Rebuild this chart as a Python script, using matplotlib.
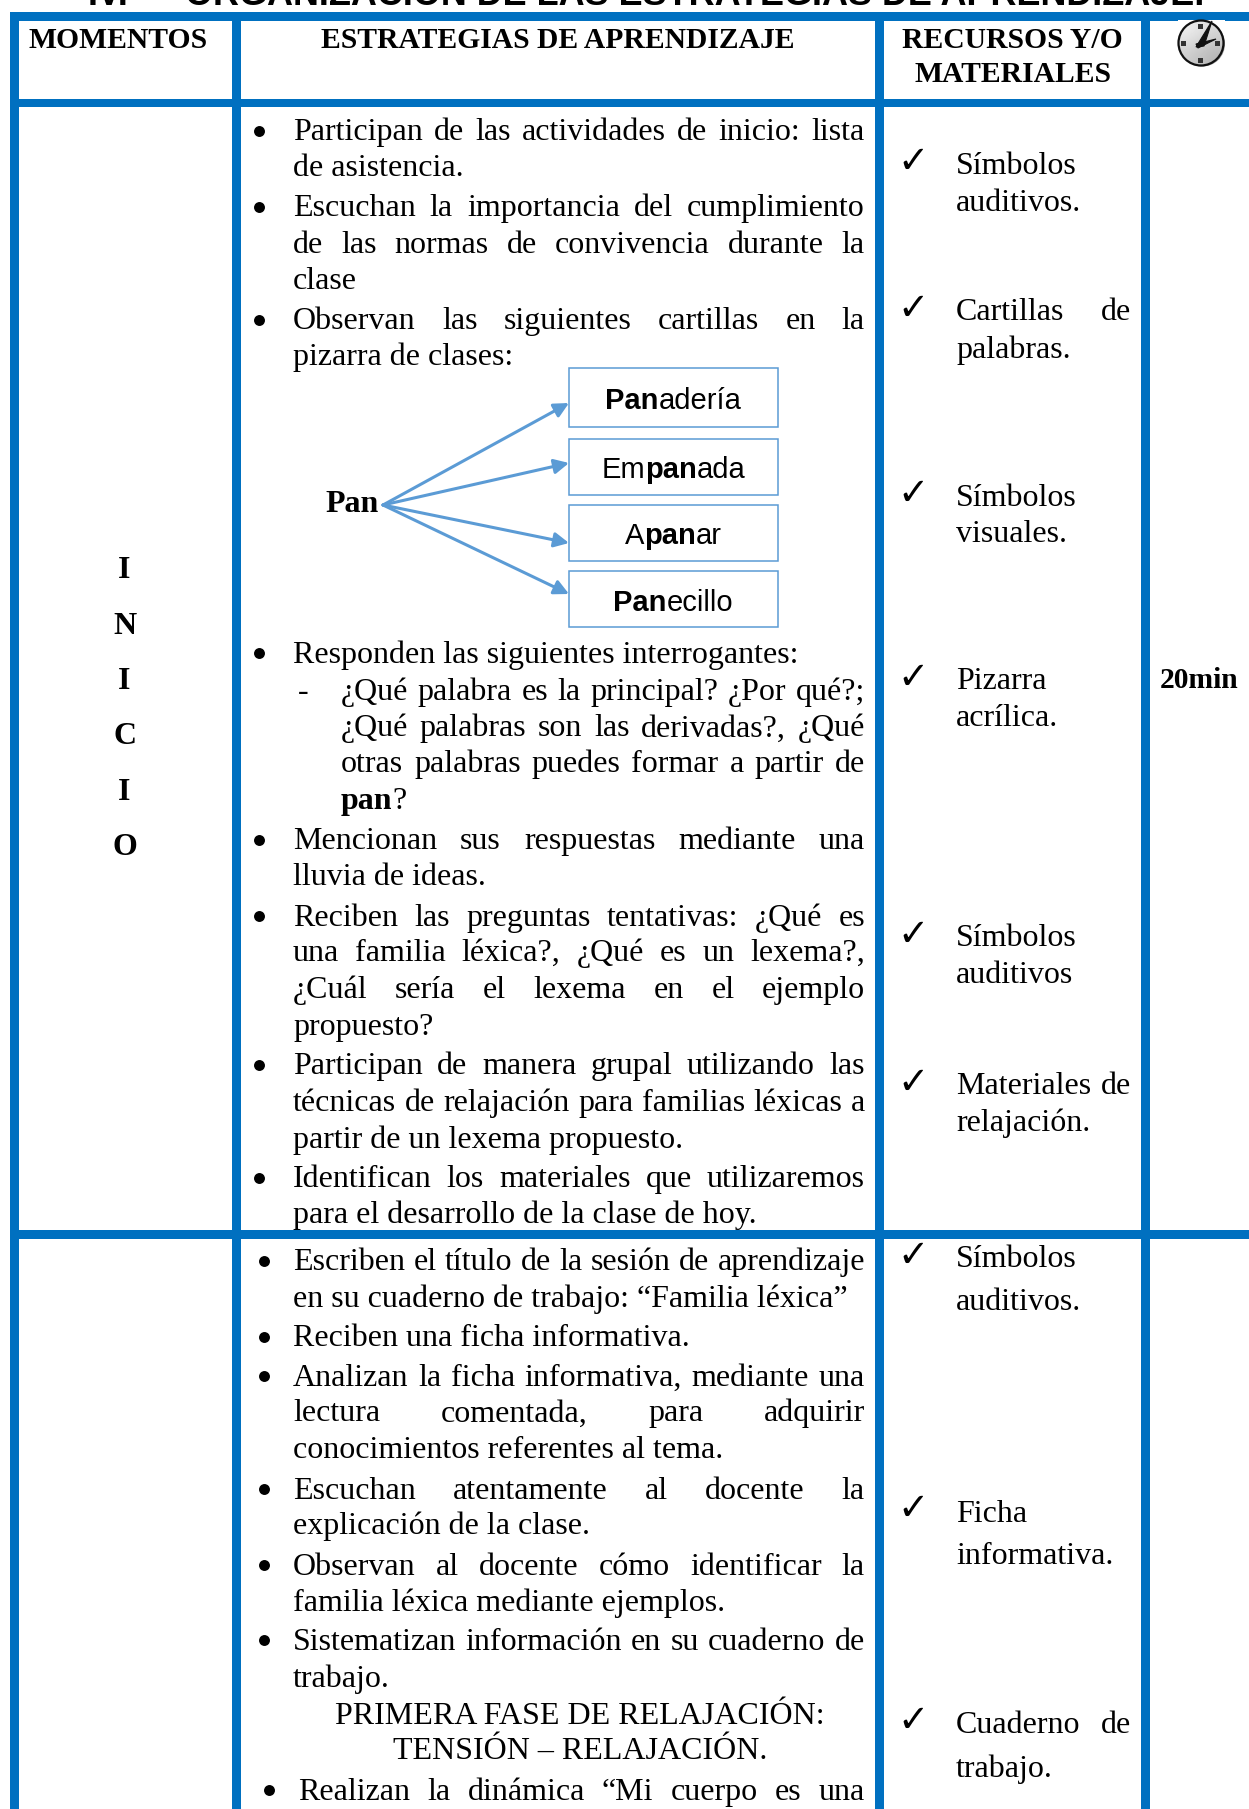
import numpy as np
import matplotlib
matplotlib.use("Agg")
import matplotlib.pyplot as plt
from matplotlib.font_manager import FontProperties
from matplotlib.patches import Rectangle, Circle, Polygon

W, H = 1249, 1809
BLUE = "#0070C0"
LBLUE = "#5B9BD5"
SERIF = "Liberation Serif"
SANS = "Liberation Sans"
BODY = 23.0
HEAD = 21.3
SCALE = 1249 / 1083

TITLE_NUM = "IV."
TITLE = "ORGANIZACIÓN DE LAS ESTRATEGIAS DE APRENDIZAJE."
HEADERS = [("MOMENTOS", 102, 33), ("ESTRATEGIAS DE APRENDIZAJE", 484, 33),
           ("RECURSOS Y/O", 878, 33), ("MATERIALES", 878, 62)]
MOMENT = ["I", "N", "I", "C", "I", "O"]
MOMENT_Y = [492, 540, 588, 636, 684, 732]
TIME_LABEL = ("20min", 1040, 587)

# (line centre in the shrunk reference, left-edge kind, justified, bullet, text)
STRATEGY = [
    (112, "b", True, True, "Participan de las actividades de inicio: lista"),
    (143, "b", False, False, "de asistencia."),
    (178, "b", True, True, "Escuchan la importancia del cumplimiento"),
    (210, "b", True, False, "de las normas de convivencia durante la"),
    (241, "b", False, False, "clase"),
    (276, "b", True, True, "Observan las siguientes cartillas en la"),
    (307, "b", False, False, "pizarra de clases:"),
    (565, "b", False, True, "Responden las siguientes interrogantes:"),
    (597, "s", True, False, "¿Qué palabra es la principal? ¿Por qué?;"),
    (629, "s", True, False, "¿Qué palabras son las derivadas?, ¿Qué"),
    (660, "s", True, False, "otras palabras puedes formar a partir de"),
    (727, "b", True, True, "Mencionan sus respuestas mediante una"),
    (758, "b", False, False, "lluvia de ideas."),
    (793, "b", True, True, "Reciben las preguntas tentativas: ¿Qué es"),
    (824, "b", True, False, "una familia léxica?, ¿Qué es un lexema?,"),
    (856, "b", True, False, "¿Cuál sería el lexema en el ejemplo"),
    (888, "b", False, False, "propuesto?"),
    (922, "b", True, True, "Participan de manera grupal utilizando las"),
    (954, "b", True, False, "técnicas de relajación para familias léxicas a"),
    (986, "b", False, False, "partir de un lexema propuesto."),
    (1020, "b", True, True, "Identifican los materiales que utilizaremos"),
    (1051, "b", False, False, "para el desarrollo de la clase de hoy."),
    (1092, "b", True, True, "Escriben el título de la sesión de aprendizaje"),
    (1124, "b", False, False, "en su cuaderno de trabajo: “Familia léxica”"),
    (1158, "b", False, True, "Reciben una ficha informativa."),
    (1192, "b", True, True, "Analizan la ficha informativa, mediante una"),
    (1223, "b", True, False, "lectura comentada, para adquirir"),
    (1255, "b", False, False, "conocimientos referentes al tema."),
    (1290, "b", True, True, "Escuchan atentamente al docente la"),
    (1321, "b", False, False, "explicación de la clase."),
    (1356, "b", True, True, "Observan al docente cómo identificar la"),
    (1387, "b", False, False, "familia léxica mediante ejemplos."),
    (1421, "b", True, True, "Sistematizan información en su cuaderno de"),
    (1453, "b", False, False, "trabajo."),
    (1551, "c", True, True, "Realizan la dinámica “Mi cuerpo es una"),
]
CENTERED = [(1485, "PRIMERA FASE DE RELAJACIÓN:"), (1516, "TENSIÓN – RELAJACIÓN.")]

# (check-mark centre, first line centre, second line centre, first, second, justify first)
RESOURCES = [
    (138, 141, 173, "Símbolos", "auditivos.", False),
    (265, 268, 301, "Cartillas de", "palabras.", True),
    (426, 429, 460, "Símbolos", "visuales.", False),
    (585, 588, 620, "Pizarra", "acrílica.", False),
    (808, 811, 843, "Símbolos", "auditivos", False),
    (936, 939, 971, "Materiales de", "relajación.", True),
    (1086, 1089, 1126, "Símbolos", "auditivos.", False),
    (1306, 1310, 1347, "Ficha", "informativa.", False),
    (1490, 1493, 1531, "Cuaderno de", "trabajo.", True),
]

DERIVED = [[("Pan", True), ("adería", False)],
           [("Em", False), ("pan", True), ("ada", False)],
           [("A", False), ("pan", True), ("ar", False)],
           [("Pan", True), ("ecillo", False)]]
BOX_Y = [(368, 427), (439, 495), (505, 561), (571, 627)]
WORD_BASE = [409, 478, 544, 611]
ARROW_END = [403, 463, 543, 594]

fig = plt.figure(figsize=(W / 100, H / 100), dpi=100)
ax = fig.add_axes([0, 0, 1, 1])
ax.set_xlim(0, W)
ax.set_ylim(H, 0)
ax.axis("off")
rend = fig.canvas.get_renderer()


def fp(bold=False, fam=SERIF, size=BODY):
    return FontProperties(family=fam, weight="bold" if bold else "normal", size=size)


def width(s, prop):
    return rend.get_text_width_height_descent(s, prop, False)[0]


def put(x, y, s, prop, ha="left"):
    ax.text(x, y, s, fontproperties=prop, ha=ha, va="baseline", color="black")


def justified(x0, x1, y, s, prop):
    words = s.split(" ")
    ws = [width(w, prop) for w in words]
    gap = (x1 - x0 - sum(ws)) / max(len(words) - 1, 1)
    x = x0
    for w, wd in zip(words, ws):
        put(x, y, w, prop)
        x += wd + gap


def base(c):
    return c * SCALE + 11


# table rules
for x0, x1 in [(10, 19), (232, 241), (875, 884), (1141, 1150)]:
    ax.add_patch(Rectangle((x0, 12), x1 - x0, H - 12, fc=BLUE, ec="none", zorder=1))
for y0, y1 in [(12, 21), (99, 107), (1230, 1239)]:
    ax.add_patch(Rectangle((10, y0), W - 10, y1 - y0, fc=BLUE, ec="none", zorder=1))

# title (cropped by the page top)
put(88, 5, TITLE_NUM, fp(True, SANS, 25.9))
put(185, 5, TITLE, fp(True, SANS, 25.9))

# headers
for s, cx, cy in HEADERS:
    put(cx * SCALE, cy * SCALE + 10, s, fp(True, size=HEAD), ha="center")

for s, cy in zip(MOMENT, MOMENT_Y):
    put(108 * SCALE, base(cy), s, fp(True), ha="center")
put(TIME_LABEL[1] * SCALE, base(TIME_LABEL[2]), TIME_LABEL[0], fp(True, size=HEAD), ha="center")

# strategy column
LEFT = {"b": 293, "s": 341, "c": 298}
RIGHT = 865
normal = fp()
for cy, kind, just, bullet, s in STRATEGY:
    y = base(cy)
    if just:
        justified(LEFT[kind], RIGHT, y, s, normal)
    else:
        put(LEFT[kind], y, s, normal)
    if bullet:
        bx = 269 if kind == "c" else (259 if cy < 1070 else 264)
        ax.scatter([bx], [y - 9.5], s=62, color="black", zorder=3, linewidths=0)
put(298, base(597), "-", normal)
x = LEFT["s"]
put(x, base(692), "pan", fp(True))
put(x + width("pan", fp(True)), base(692), "?", normal)
for cy, s in CENTERED:
    put(580, base(cy), s, normal, ha="center")

# resources column
for ck, c1, c2, a, b, just in RESOURCES:
    ax.text(792 * SCALE, ck * SCALE + 4, "\u2713", fontproperties=fp(True, "DejaVu Sans", 27),
            ha="center", va="center", color="black")
    if just:
        justified(956, 1131, base(c1), a, normal)
    else:
        put(956, base(c1), a, normal)
    put(956, base(c2), b, normal)

# diagram
for (y0, y1), segs, by, ay in zip(BOX_Y, DERIVED, WORD_BASE, ARROW_END):
    ax.add_patch(Rectangle((569, y0), 209, y1 - y0, fc="white", ec=LBLUE, lw=1.1, zorder=2))
    props = [fp(b, SANS, 21) for _, b in segs]
    ws = [width(t, p) for (t, _), p in zip(segs, props)]
    x = 673.5 - sum(ws) / 2
    for (t, _), p, wd in zip(segs, props, ws):
        ax.text(x, by, t, fontproperties=p, ha="left", va="baseline", color="black", zorder=3)
        x += wd
    ax.annotate("", xy=(569, ay), xytext=(383, 505),
                arrowprops=dict(arrowstyle="-|>", color=LBLUE, lw=2.2, mutation_scale=22,
                                shrinkA=0, shrinkB=0), zorder=3)
put(325, 512, "Pan", fp(True))

# clock
ax.add_patch(Rectangle((1178, 20), 47, 46, fc="white", ec="none", zorder=4))
cx, cy, r = 1201, 43, 22.5
ax.add_patch(Circle((cx + 1.5, cy + 1), r, fc="#9a9a9a", ec="none", zorder=5))
grad = np.array([[0.95, 0.85], [0.80, 0.70]])
im = ax.imshow(grad, extent=(cx - r, cx + r, cy + r, cy - r), cmap="gray", vmin=0, vmax=1,
               aspect="auto", interpolation="bicubic", zorder=6)
im.set_clip_path(Circle((cx, cy), r, transform=ax.transData))
ax.add_patch(Circle((cx, cy), r, fc="none", ec="#111111", lw=1.6, zorder=7))
ax.set_xlim(0, W)
ax.set_ylim(H, 0)
for dx, dy in [(0, -17), (0, 17), (-17, 0), (17, 0)]:
    ax.add_patch(Rectangle((cx + dx - 2.5, cy + dy - 2.5), 5, 5, fc="#333333", ec="none", zorder=7))
ax.add_patch(Polygon([(1196, 47), (1212, 21), (1204, 46)], fc="#111111", ec="#111111", lw=0.8, zorder=8))
ax.add_patch(Polygon([(1196, 44), (1216, 39), (1198, 48)], fc="#111111", ec="#111111", lw=0.8, zorder=8))

fig.savefig("out.png", dpi=100, facecolor="white")
